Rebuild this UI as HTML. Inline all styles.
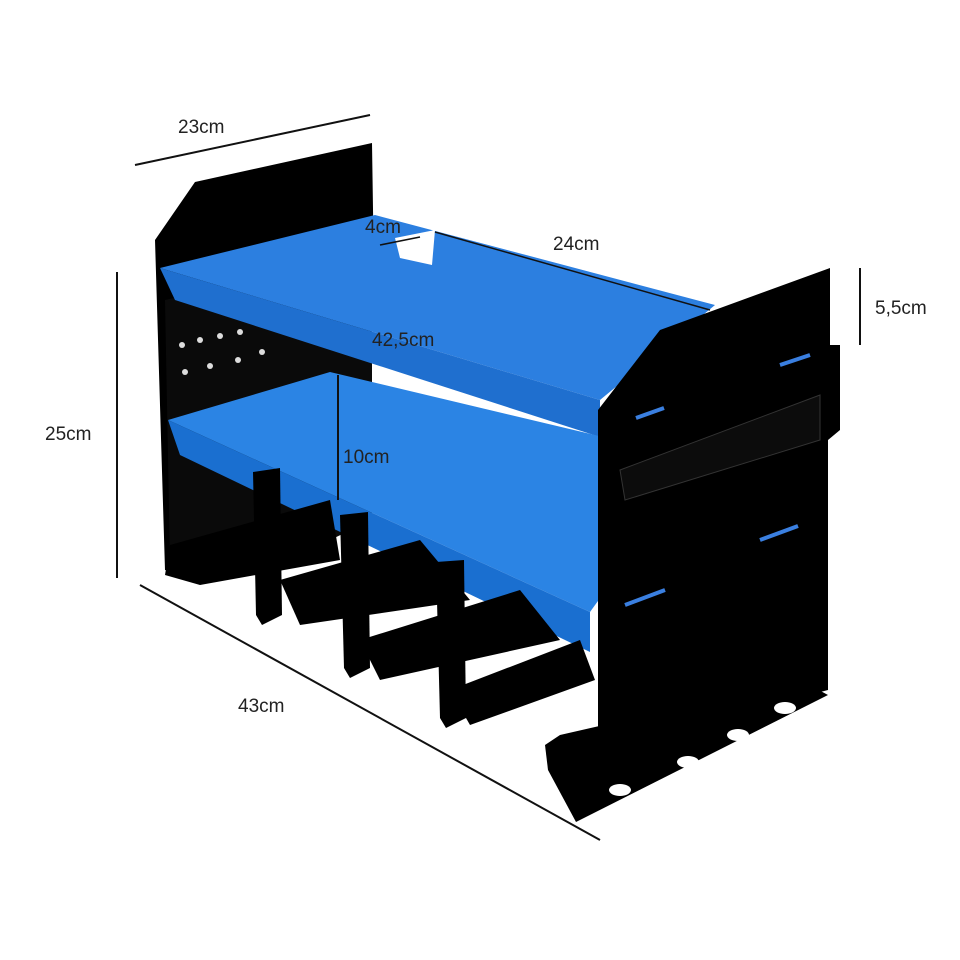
<!DOCTYPE html>
<html><head><meta charset="utf-8"><style>
html,body{margin:0;padding:0;background:#fff;}
svg{display:block}
text{font-family:"Liberation Sans",sans-serif;font-size:19px;fill:#222}
</style></head><body>
<svg width="960" height="960" viewBox="0 0 960 960">
<!-- dimension lines -->
<g stroke="#111" stroke-width="2">
<line x1="135" y1="165" x2="370" y2="115"/>
<line x1="117" y1="272" x2="117" y2="578"/>
<line x1="140" y1="585" x2="600" y2="840"/>
<line x1="860" y1="268" x2="860" y2="345"/>
</g>
<!-- left side panel -->
<polygon points="155,240 195,182 372,143 374,275 300,300 175,330 190,575 165,570" fill="#000"/>
<!-- back rear area -->
<polygon points="165,300 372,255 372,520 330,540 190,575 170,560" fill="#0a0a0a"/>
<g fill="#ddd">
<circle cx="182" cy="345" r="3"/><circle cx="200" cy="340" r="3"/><circle cx="220" cy="336" r="3"/><circle cx="240" cy="332" r="3"/>
<circle cx="185" cy="372" r="3"/><circle cx="210" cy="366" r="3"/><circle cx="238" cy="360" r="3"/><circle cx="262" cy="352" r="3"/>
</g>
<!-- top shelf -->
<polygon points="160,268 375,215 715,305 600,400" fill="#2c7fe0"/>
<polygon points="395,238 435,230 432,265 400,258" fill="#fff"/>
<polygon points="160,268 600,400 600,437 175,300" fill="#1f6fcf"/>
<!-- lower shelf -->
<polygon points="168,420 330,372 700,460 590,612" fill="#2b84e4"/>
<polygon points="168,420 590,612 590,652 180,455" fill="#1a6fd0"/>
<line x1="338" y1="375" x2="338" y2="500" stroke="#111" stroke-width="2"/>
<!-- bottom slots -->
<g fill="#000">
<polygon points="170,545 330,500 340,560 200,585 165,575"/>
<polygon points="280,580 420,540 470,600 300,625"/>
<polygon points="360,640 520,590 560,640 380,680"/>
<polygon points="450,690 580,640 595,680 470,725"/>
</g>
<!-- brackets -->
<g fill="#000">
<polygon points="253,472 280,468 282,615 262,625 256,615"/>
<polygon points="340,515 368,512 370,668 350,678 344,668"/>
<polygon points="436,562 464,560 466,718 446,728 440,718"/>
</g>
<!-- right side panel -->
<polygon points="598,410 660,330 830,268 830,345 840,345 840,430 828,440 828,690 598,750" fill="#000"/>
<polygon points="545,745 560,735 800,680 828,695 576,822 548,770" fill="#000"/>
<g fill="#fff">
<ellipse cx="620" cy="790" rx="11" ry="6"/><ellipse cx="688" cy="762" rx="11" ry="6"/><ellipse cx="738" cy="735" rx="11" ry="6"/><ellipse cx="785" cy="708" rx="11" ry="6"/>
</g>
<polygon points="620,470 820,395 820,440 625,500" fill="#0c0c0c" stroke="#333"/>
<g stroke="#3a7fe0" stroke-width="4">
<line x1="636" y1="418" x2="664" y2="408"/><line x1="760" y1="540" x2="798" y2="526"/>
<line x1="625" y1="605" x2="665" y2="590"/><line x1="780" y1="365" x2="810" y2="355"/>
</g>
<text x="178" y="133">23cm</text>
<text x="45" y="440">25cm</text>
<text x="238" y="712">43cm</text>
<text x="875" y="314">5,5cm</text>
<text x="343" y="463">10cm</text>
<text x="372" y="346">42,5cm</text>
<text x="365" y="233">4cm</text>
<text x="553" y="250">24cm</text>
<line x1="435" y1="232" x2="710" y2="310" stroke="#111" stroke-width="1.5"/>
<line x1="380" y1="245" x2="420" y2="237" stroke="#111" stroke-width="1.5"/>
</svg>
</body></html>
